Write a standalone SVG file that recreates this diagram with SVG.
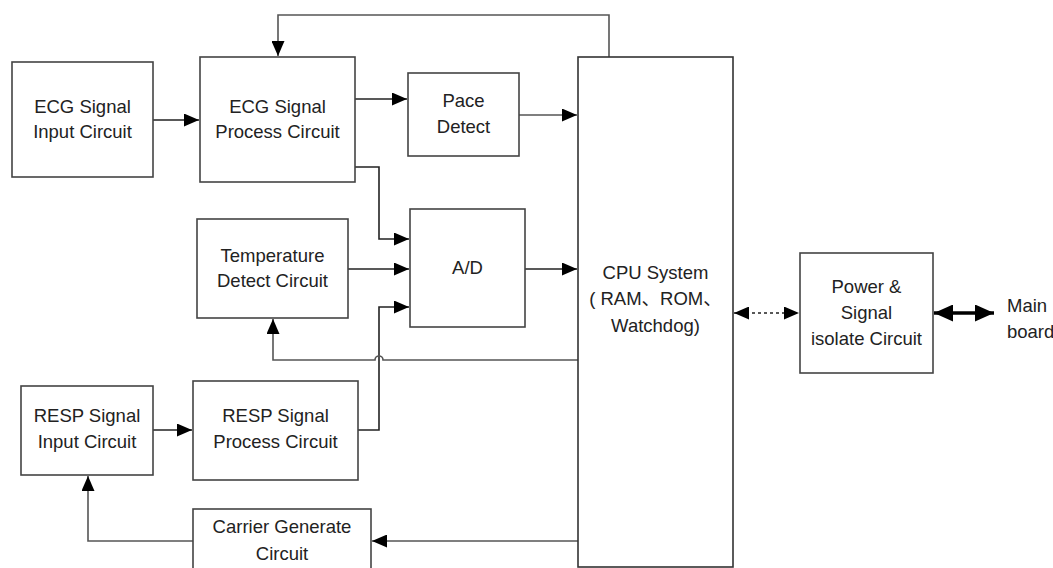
<svg xmlns="http://www.w3.org/2000/svg" width="1053" height="568" viewBox="0 0 1053 568">
<style>
.box{fill:#fff;stroke:#444;stroke-width:1.6}
.t{font-family:"Liberation Sans",Arial,sans-serif;font-size:18.5px;fill:#222;text-anchor:middle}
.c{fill:none;stroke:#222;stroke-width:1.6}
.g{fill:none;stroke:#555;stroke-width:1.6}
</style>
<defs>
<marker id="ah" markerUnits="userSpaceOnUse" markerWidth="16" markerHeight="13" refX="15" refY="6.5" orient="auto-start-reverse" viewBox="0 0 16 13">
<path d="M0,0 L15,6.5 L0,13 z" fill="#000"/>
</marker>
<marker id="ahb" markerUnits="userSpaceOnUse" markerWidth="20" markerHeight="17" refX="19" refY="8.5" orient="auto-start-reverse" viewBox="0 0 20 17">
<path d="M0,0 L19,8.5 L0,17 z" fill="#000"/>
</marker>
</defs>

<g id="connectors">
<path class="c" d="M153,120 H199" marker-end="url(#ah)"/>
<path class="g" d="M609,57 V15 H278 V56" marker-end="url(#ah)"/>
<path class="c" d="M355,99 H407" marker-end="url(#ah)"/>
<path class="g" d="M519,115 H577" marker-end="url(#ah)"/>
<path class="c" d="M355,167 H379 V239 H409" marker-end="url(#ah)"/>
<path class="c" d="M348,269 H409" marker-end="url(#ah)"/>
<path class="c" d="M525,269 H577" marker-end="url(#ah)"/>
<path class="c" d="M358,430 H379 V307 H409" marker-end="url(#ah)"/>
<path class="g" d="M578,360 H383 A4,4 0 0 0 375,360 H273 V319" marker-end="url(#ah)"/>
<path class="c" d="M153,430 H192" marker-end="url(#ah)"/>
<path class="g" d="M578,541 H372" marker-end="url(#ah)"/>
<path class="g" d="M193,541 H88 V476" marker-end="url(#ah)"/>
<path class="c" d="M734,313 H799" stroke-dasharray="3,3" marker-start="url(#ah)" marker-end="url(#ah)"/>
<path d="M934,313 H994" fill="none" stroke="#000" stroke-width="3.5" marker-start="url(#ahb)" marker-end="url(#ahb)"/>
</g>

<g id="ecg-input">
<rect class="box" x="12" y="62" width="141" height="115"/>
<text class="t" x="82.5" y="113">ECG Signal</text>
<text class="t" x="82.5" y="138">Input Circuit</text>
</g>
<g id="ecg-process">
<rect class="box" x="200" y="57" width="155" height="125"/>
<text class="t" x="277.5" y="113">ECG Signal</text>
<text class="t" x="277.5" y="138">Process Circuit</text>
</g>
<g id="pace-detect">
<rect class="box" x="408" y="73" width="111" height="83"/>
<text class="t" x="463.5" y="107">Pace</text>
<text class="t" x="463.5" y="133">Detect</text>
</g>
<g id="temperature">
<rect class="box" x="197" y="219" width="151" height="99"/>
<text class="t" x="272.5" y="262">Temperature</text>
<text class="t" x="272.5" y="287">Detect Circuit</text>
</g>
<g id="ad">
<rect class="box" x="410" y="209" width="115" height="118"/>
<text class="t" x="467.5" y="274">A/D</text>
</g>
<g id="resp-input">
<rect class="box" x="21" y="386" width="132" height="89"/>
<text class="t" x="87" y="422">RESP Signal</text>
<text class="t" x="87" y="448">Input Circuit</text>
</g>
<g id="resp-process">
<rect class="box" x="193" y="381" width="165" height="99"/>
<text class="t" x="275.5" y="422">RESP Signal</text>
<text class="t" x="275.5" y="448">Process Circuit</text>
</g>
<g id="carrier">
<rect class="box" x="193" y="509" width="178" height="62"/>
<text class="t" x="282" y="533">Carrier Generate</text>
<text class="t" x="282" y="560">Circuit</text>
</g>
<g id="cpu">
<rect class="box" x="578" y="57" width="155" height="510" style="stroke:#333"/>
<text class="t" x="655.5" y="279">CPU System</text>
<text class="t" x="655.5" y="305" style="font-family:'Liberation Sans','Noto Sans CJK SC',sans-serif">( RAM、ROM、</text>
<text class="t" x="655.5" y="332">Watchdog)</text>
</g>
<g id="power">
<rect class="box" x="800" y="253" width="133" height="120"/>
<text class="t" x="866.5" y="293">Power &amp;</text>
<text class="t" x="866.5" y="319">Signal</text>
<text class="t" x="866.5" y="345">isolate Circuit</text>
</g>
<g id="main-board">
<text class="t" x="1007" y="312" style="text-anchor:start">Main</text>
<text class="t" x="1007" y="338" style="text-anchor:start">board</text>
</g>
</svg>
